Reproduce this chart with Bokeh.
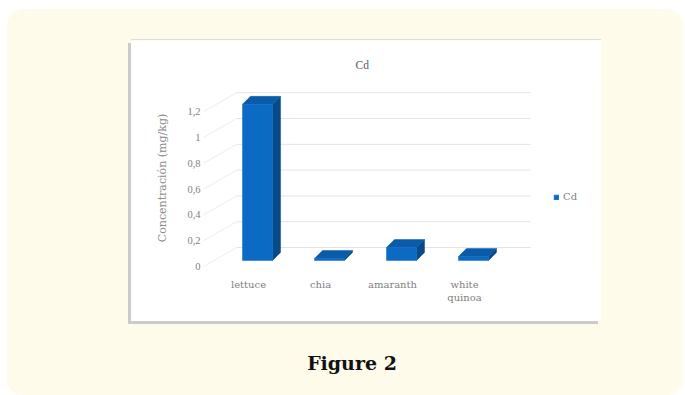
from bokeh.plotting import figure
from bokeh.layouts import column
from bokeh.models import Range1d, FixedTicker, Legend, LegendItem, Div
from bokeh.embed import file_html
from bokeh.resources import INLINE

# ---------------- data ----------------
categories = ["lettuce", "chia", "amaranth", "white quinoa"]
cd_values = [1.21, 0.015, 0.10, 0.03]
y_ticks = [0, 0.2, 0.4, 0.6, 0.8, 1.0, 1.2]
y_tick_labels = ["0", "0,2", "0,4", "0,6", "0,8", "1", "1,2"]
series_name = "Cd"
chart_title = "Cd"
y_title = "Concentración (mg/kg)"
caption = "Figure 2"

# ---------------- style / geometry ----------------
CREAM = "#fffbeb"
TXT = "#7f7f7f"
FRONT = "#0b6bc4"
SIDE = "#064a8a"
TOP = "#0a5cab"
GRID = "#e4e4e4"
FONT = "Liberation Serif"
WIDE = "DejaVu Serif"

BACK_DX, BACK_DY = 0.46, 0.147
BAR_DX, BAR_DY = 0.125, 0.047
BAR_W = 0.417
DEPTH_DX, DEPTH_DY = 0.111, 0.062
WALL_LEFT = -0.625
WALL_RIGHT = 3.92

p = figure(width=470, height=281, output_backend="svg", toolbar_location=None,
           x_range=Range1d(-0.667, 4.778), y_range=Range1d(-0.031, 1.403),
           min_border_left=69, min_border_right=9, min_border_top=45,
           min_border_bottom=51, title=chart_title,
           margin=(31, 0, 0, 124),
           styles={"box-shadow": "-3px 3px 0 #cbcbcb, 0 -1px 0 #dddddd"})
p.border_fill_color = "white"
p.background_fill_color = "white"
p.outline_line_color = None
p.xgrid.visible = False
p.ygrid.visible = False

p.title.align = "left"
p.title.offset = 155
p.title.text_font = FONT
p.title.text_font_size = "11.5px"
p.title.text_font_style = "normal"
p.title.text_color = "#595959"
p.title.standoff = 29

# back-wall gridlines and side-wall diagonals from tick values
back_xs = [[WALL_LEFT + BACK_DX, WALL_RIGHT] for _ in y_ticks]
back_ys = [[t + BACK_DY, t + BACK_DY] for t in y_ticks]
p.multi_line(back_xs, back_ys, line_color=GRID, line_width=1)
side_xs = [[WALL_LEFT, WALL_LEFT + BACK_DX] for _ in y_ticks]
side_ys = [[t, t + BACK_DY] for t in y_ticks]
p.multi_line(side_xs, side_ys, line_color="#f0ece4", line_width=1)

# 3D bars
fx, fy, sx, sy, tx, ty = [], [], [], [], [], []
for i, v in enumerate(cd_values):
    xl = i + BAR_DX - BAR_W / 2
    xr = i + BAR_DX + BAR_W / 2
    y0 = BAR_DY
    y1 = BAR_DY + v
    fx.append([xl, xr, xr, xl]); fy.append([y0, y0, y1, y1])
    sx.append([xr, xr + DEPTH_DX, xr + DEPTH_DX, xr])
    sy.append([y0, y0 + DEPTH_DY, y1 + DEPTH_DY, y1])
    tx.append([xl, xl + DEPTH_DX, xr + DEPTH_DX, xr])
    ty.append([y1, y1 + DEPTH_DY, y1 + DEPTH_DY, y1])
p.patches(sx, sy, fill_color=SIDE, line_color=SIDE, line_width=0.5)
p.patches(tx, ty, fill_color=TOP, line_color=TOP, line_width=0.5)
front = p.patches(fx, fy, fill_color=FRONT, line_color=FRONT, line_width=0.5)

# axes
p.yaxis.ticker = FixedTicker(ticks=y_ticks)
p.yaxis.major_label_overrides = dict(zip(y_ticks, y_tick_labels))
p.yaxis.axis_line_color = None
p.yaxis.major_tick_line_color = None
p.yaxis.minor_tick_line_color = None
p.yaxis.major_tick_out = 0
p.yaxis.major_tick_in = 0
p.yaxis.minor_tick_out = 0
p.yaxis.major_label_standoff = 0
p.yaxis.major_label_text_font = FONT
p.yaxis.major_label_text_font_size = "10.5px"
p.yaxis.major_label_text_color = TXT
p.yaxis.axis_label = y_title
p.yaxis.axis_label_text_font = WIDE
p.yaxis.axis_label_text_font_size = "11px"
p.yaxis.axis_label_text_font_style = "normal"
p.yaxis.axis_label_text_color = "#8a8a8a"
p.yaxis.axis_label_standoff = 15

p.xaxis.ticker = FixedTicker(ticks=list(range(len(categories))))
p.xaxis.major_label_overrides = {i: c.replace(" ", "\n") for i, c in enumerate(categories)}
p.xaxis.axis_line_color = None
p.xaxis.major_tick_line_color = None
p.xaxis.minor_tick_line_color = None
p.xaxis.major_tick_out = 0
p.xaxis.major_tick_in = 0
p.xaxis.minor_tick_out = 0
p.xaxis.major_label_standoff = 8
p.xaxis.major_label_text_font = WIDE
p.xaxis.major_label_text_font_size = "10px"
p.xaxis.major_label_text_color = "#808080"

# legend (inside the widened frame, right of the plot walls)
legend = Legend(items=[LegendItem(label=series_name, renderers=[front])],
                location=(353, 68), padding=0, margin=0, spacing=0,
                label_standoff=4, glyph_width=6, glyph_height=6,
                label_height=10, label_text_font=WIDE,
                label_text_font_size="10px", label_text_color=TXT,
                background_fill_color="white", background_fill_alpha=1,
                border_line_color=None)
p.add_layout(legend, "center")

cap = Div(text=caption, width=200, height=26, margin=(29, 0, 0, 245),
          styles={"text-align": "center", "font-family": "DejaVu Serif",
                  "font-weight": "bold", "font-size": "19px", "color": "#111111",
                  "line-height": "26px"})

layout = column(p, cap, width=676, height=386, margin=(9, 2, 0, 7),
                styles={"background-color": CREAM, "border-radius": "16px"})

open("out.html", "w").write(file_html(layout, INLINE))
